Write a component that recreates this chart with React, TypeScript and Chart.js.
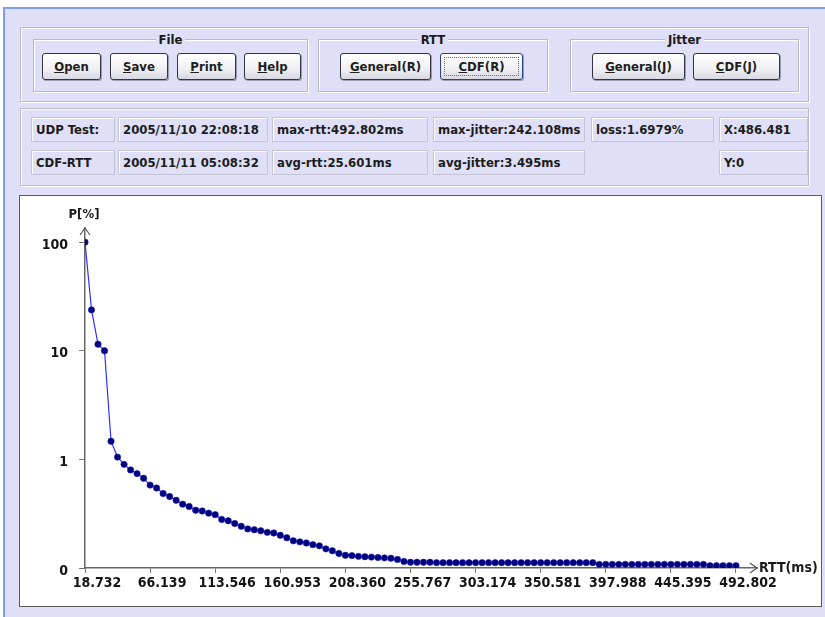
import React, { useEffect, useRef } from "react";
import { Chart, registerables } from "chart.js";

Chart.register(...registerables);

// ---- data ----
const rttMs = [
  18.732, 23.473, 28.213, 32.954, 37.695, 42.436, 47.176, 51.917, 56.658, 61.398,
  66.139, 70.880, 75.620, 80.361, 85.102, 89.843, 94.583, 99.324, 104.065, 108.805,
  113.546, 118.287, 123.027, 127.768, 132.509, 137.250, 141.990, 146.731, 151.472, 156.212,
  160.953, 165.694, 170.434, 175.175, 179.916, 184.657, 189.397, 194.138, 198.879, 203.619,
  208.360, 213.101, 217.841, 222.582, 227.323, 232.064, 236.804, 241.545, 246.286, 251.026,
  255.767, 260.508, 265.248, 269.989, 274.730, 279.471, 284.211, 288.952, 293.693, 298.433,
  303.174, 307.915, 312.655, 317.396, 322.137, 326.878, 331.618, 336.359, 341.100, 345.840,
  350.581, 355.322, 360.062, 364.803, 369.544, 374.285, 379.025, 383.766, 388.507, 393.247,
  397.988, 402.729, 407.469, 412.210, 416.951, 421.692, 426.432, 431.173, 435.914, 440.654,
  445.395, 450.136, 454.876, 459.617, 464.358, 469.099, 473.839, 478.580, 483.321, 488.061,
  492.802,
];

const cdfPercent = [
  100, 23.8, 11.5, 10.0, 1.47, 1.05, 0.9, 0.8, 0.74, 0.67,
  0.58, 0.545, 0.485, 0.455, 0.42, 0.387, 0.368, 0.34, 0.335, 0.32,
  0.31, 0.28, 0.272, 0.257, 0.242, 0.229, 0.225, 0.22, 0.213, 0.21,
  0.2, 0.19, 0.178, 0.174, 0.17, 0.164, 0.16, 0.15, 0.144, 0.136,
  0.131, 0.13, 0.128, 0.127, 0.126, 0.125, 0.124, 0.123, 0.12, 0.115,
  0.113, 0.113, 0.113, 0.113, 0.112, 0.112, 0.112, 0.112, 0.112, 0.112,
  0.112, 0.112, 0.112, 0.112, 0.112, 0.112, 0.112, 0.112, 0.112, 0.112,
  0.112, 0.112, 0.112, 0.112, 0.112, 0.112, 0.112, 0.112, 0.112, 0.108,
  0.108, 0.108, 0.108, 0.108, 0.108, 0.108, 0.108, 0.108, 0.108, 0.108,
  0.108, 0.108, 0.108, 0.108, 0.108, 0.108, 0.105, 0.105, 0.105, 0.105,
  0.105,
];

const xTickValues = [18.732, 66.139, 113.546, 160.953, 208.36, 255.767, 303.174, 350.581, 397.988, 445.395, 492.802];
const xTickLabels = ["18.732", "66.139", "113.546", "160.953", "208.360", "255.767", "303.174", "350.581", "397.988", "445.395", "492.802"];
const yTickValues = [0.1, 1, 10, 100];
const yTickLabels = ["0", "1", "10", "100"];
const xAxisTitle = "RTT(ms)";
const yAxisTitle = "P[%]";

const groupTitles = ["File", "RTT", "Jitter"];
const fileButtons = ["Open", "Save", "Print", "Help"];
const rttButtons = ["General(R)", "CDF(R)"];
const jitterButtons = ["General(J)", "CDF(J)"];
const infoRow1 = ["UDP Test:", "2005/11/10 22:08:18", "max-rtt:492.802ms", "max-jitter:242.108ms", "loss:1.6979%", "X:486.481"];
const infoRow2 = ["CDF-RTT", "2005/11/11 05:08:32", "avg-rtt:25.601ms", "avg-jitter:3.495ms", "", "Y:0"];

// ---- layout ----
const FONT = '"DejaVu Sans Condensed", "Liberation Sans Narrow", "DejaVu Sans", sans-serif';
const BG = "#dfdff7";
const cellX = [[31, 84], [118, 150], [272, 156], [433, 152], [591, 123], [719, 89]];

function GroupBox(props: { x: number; y: number; w: number; h: number; title?: string }) {
  const { x, y, w, h, title } = props;
  return (
    <div
      style={{
        position: "absolute",
        left: x,
        top: y,
        width: w,
        height: h,
        border: "1px solid #b9b9cc",
        boxShadow: "inset 1px 1px 0 #ffffff, 1px 1px 0 #ffffff",
        boxSizing: "border-box",
      }}
    >
      {title ? (
        <div
          style={{
            position: "absolute",
            left: 0,
            right: 0,
            top: -9,
            textAlign: "center",
            lineHeight: "16px",
          }}
        >
          <span style={{ background: BG, padding: "0 3px", fontSize: 13, fontWeight: "bold", color: "#1a1a1a" }}>{title}</span>
        </div>
      ) : null}
    </div>
  );
}

function Btn(props: { x: number; w: number; label: string; focused?: boolean }) {
  const { x, w, label, focused } = props;
  return (
    <div
      style={{
        position: "absolute",
        left: x,
        top: 53,
        width: w,
        height: 27,
        boxSizing: "border-box",
        border: focused ? "1px solid #2a3f8f" : "1px solid #34343f",
        borderRadius: 3,
        background: "linear-gradient(#ffffff, #f0f0f4 60%, #d8d8e2)",
        boxShadow: "1px 1px 0 #9c9cb2",
        fontSize: 13,
        fontWeight: "bold",
        color: "#1e1e1e",
        textAlign: "center",
        lineHeight: "25px",
      }}
    >
      {focused ? (
        <div
          style={{
            position: "absolute",
            left: 3,
            top: 3,
            right: 3,
            bottom: 3,
            border: "1px dotted #c04a4a",
          }}
        />
      ) : null}
      <span style={{ position: "relative" }}>
        <u>{label[0]}</u>
        {label.slice(1)}
      </span>
    </div>
  );
}

function Cell(props: { x: number; y: number; w: number; text: string }) {
  const { x, y, w, text } = props;
  return (
    <div
      style={{
        position: "absolute",
        left: x,
        top: y,
        width: w,
        height: 25,
        boxSizing: "border-box",
        border: "1px solid #c4c4d6",
        boxShadow: "inset 1px 1px 0 #ffffff",
        fontSize: 13,
        fontWeight: "bold",
        color: "#1c1c1c",
        lineHeight: "23px",
        paddingLeft: 4,
        whiteSpace: "nowrap",
      }}
    >
      {text}
    </div>
  );
}

const arrowPlugin = {
  id: "axisArrows",
  afterDraw(chart: any) {
    const { ctx, chartArea } = chart;
    const { left, top, right, bottom } = chartArea;
    ctx.save();
    ctx.strokeStyle = "#555";
    ctx.lineWidth = 1.2;
    ctx.beginPath();
    ctx.moveTo(left - 5, top + 7);
    ctx.lineTo(left, top);
    ctx.lineTo(left + 5, top + 7);
    ctx.moveTo(right - 7, bottom - 5);
    ctx.lineTo(right, bottom);
    ctx.lineTo(right - 7, bottom + 5);
    ctx.stroke();
    ctx.fillStyle = "#1a1a1a";
    ctx.font = "bold 13px " + FONT;
    ctx.textAlign = "center";
    ctx.textBaseline = "middle";
    ctx.fillText(yAxisTitle, left - 1, top - 13);
    ctx.font = "bold 14px " + FONT;
    ctx.textAlign = "left";
    ctx.fillText(xAxisTitle, right + 2, bottom);
    ctx.restore();
  },
};

function CdfChart() {
  const ref = useRef<HTMLCanvasElement | null>(null);
  useEffect(() => {
    if (!ref.current) return;
    const tickFont = { family: FONT, size: 14, weight: "bold" as const };
    const chart = new Chart(ref.current, {
      type: "line",
      data: {
        datasets: [
          {
            data: rttMs.map((x, i) => ({ x, y: cdfPercent[i] })),
            borderColor: "#3030ff",
            borderWidth: 1.2,
            pointRadius: 3.2,
            pointBackgroundColor: "#00007a",
            pointBorderColor: "#2020c0",
            pointBorderWidth: 0.6,
            tension: 0,
            fill: false,
          },
        ],
      },
      options: {
        animation: false,
        responsive: false,
        maintainAspectRatio: false,
        layout: { padding: { left: 0, right: 63, top: 32, bottom: 0 } },
        plugins: { legend: { display: false }, tooltip: { enabled: false } },
        scales: {
          x: {
            type: "linear",
            min: 18.732,
            max: 508.1,
            afterBuildTicks: (s: any) => {
              s.ticks = xTickValues.map((v) => ({ value: v }));
            },
            afterFit: (s: any) => {
              s.height = 38;
            },
            ticks: {
              autoSkip: false,
              maxRotation: 0,
              minRotation: 0,
              labelOffset: 12,
              padding: 2,
              color: "#141414",
              font: tickFont,
              callback: (_v: any, i: number) => xTickLabels[i],
            },
            grid: { drawOnChartArea: false, drawTicks: true, tickLength: 5, color: "#777" },
            border: { color: "#666", width: 1.5 },
          },
          y: {
            type: "logarithmic",
            min: 0.1,
            max: 135,
            afterBuildTicks: (s: any) => {
              s.ticks = yTickValues.map((v) => ({ value: v }));
            },
            afterFit: (s: any) => {
              s.width = 65;
            },
            ticks: {
              padding: 11,
              labelOffset: 3,
              color: "#141414",
              font: tickFont,
              callback: (_v: any, i: number) => yTickLabels[i],
            },
            grid: { drawOnChartArea: false, drawTicks: true, tickLength: 6, color: "#777" },
            border: { color: "#666", width: 1.5 },
          },
        },
      },
      plugins: [arrowPlugin],
    });
    return () => chart.destroy();
  }, []);
  return <canvas ref={ref} width={800} height={410} style={{ position: "absolute", left: 0, top: 0, width: 800, height: 410 }} />;
}

export default function App() {
  return (
    <div
      style={{
        position: "fixed",
        left: 0,
        top: 0,
        width: 825,
        height: 617,
        background: "#ffffff",
        overflow: "hidden",
        fontFamily: FONT,
      }}
    >
      <div
        style={{
          position: "absolute",
          left: 3,
          top: 7,
          right: 0,
          bottom: 0,
          background: BG,
          borderLeft: "2px solid #7f9cf0",
          borderTop: "2px solid #7f9cf0",
        }}
      />
      {/* control panel */}
      <GroupBox x={20} y={27} w={789} h={75} />
      <GroupBox x={33} y={39} w={275} h={53} title={groupTitles[0]} />
      <GroupBox x={318} y={39} w={230} h={53} title={groupTitles[1]} />
      <GroupBox x={570} y={39} w={229} h={53} title={groupTitles[2]} />
      {fileButtons.map((b, i) => (
        <Btn key={b} x={[42, 110, 177, 244][i]} w={[59, 58, 59, 57][i]} label={b} />
      ))}
      {rttButtons.map((b, i) => (
        <Btn key={b} x={[340, 440][i]} w={[91, 83][i]} label={b} focused={i === 1} />
      ))}
      {jitterButtons.map((b, i) => (
        <Btn key={b} x={[592, 693][i]} w={[93, 87][i]} label={b} />
      ))}
      {/* info panel */}
      <GroupBox x={20} y={108} w={789} h={78} />
      {infoRow1.map((t, i) => (
        <Cell key={"r1" + i} x={cellX[i][0]} y={117} w={cellX[i][1]} text={t} />
      ))}
      {infoRow2.map((t, i) =>
        t ? <Cell key={"r2" + i} x={cellX[i][0]} y={150} w={cellX[i][1]} text={t} /> : null
      )}
      {/* chart panel */}
      <div
        style={{
          position: "absolute",
          left: 19,
          top: 195,
          width: 803,
          height: 412,
          background: "#ffffff",
          border: "1px solid #5a5a5a",
          boxSizing: "border-box",
        }}
      >
        <div style={{ position: "absolute", left: 0, top: 0 }}>
          <CdfChart />
        </div>
      </div>
    </div>
  );
}
